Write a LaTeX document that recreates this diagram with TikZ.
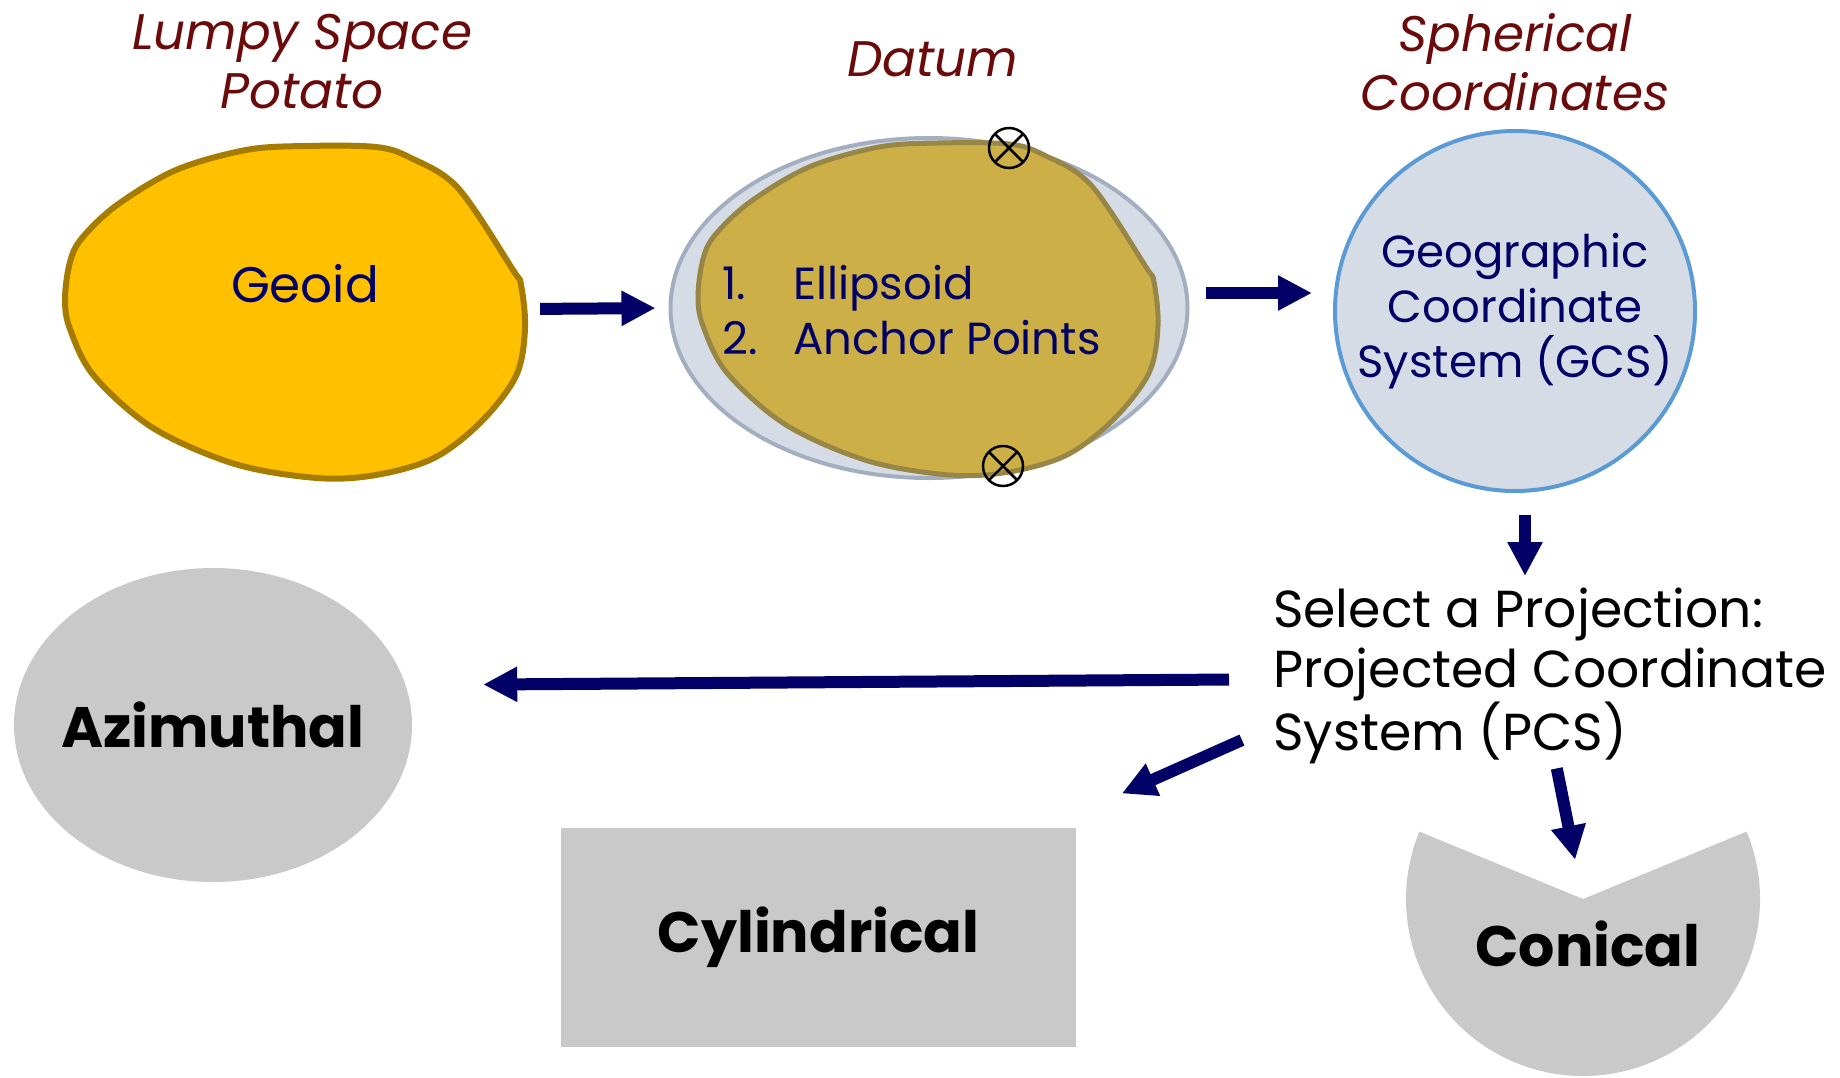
\documentclass[tikz,border=0pt]{standalone}
\usepackage{fontspec}
\setmainfont{Poppins}
\usepackage{xcolor}
\usetikzlibrary{arrows.meta,positioning,shapes.geometric}
\definecolor{gsnavy}{HTML}{000066}
\definecolor{gsmaroon}{HTML}{6B0A0A}
\definecolor{gsgold}{HTML}{FFC000}
\definecolor{gsgolddark}{HTML}{A67C00}
\definecolor{gsmuted}{HTML}{CDAF47}
\definecolor{gsmuteddark}{HTML}{978645}
\definecolor{gspale}{HTML}{D6DCE5}
\definecolor{gsedge}{HTML}{A3AEC0}
\definecolor{gsblue}{HTML}{5B9BD5}
\definecolor{gsgray}{HTML}{C9C9C9}
\tikzset{
  title/.style={font=\fontsize{50}{59}\selectfont\itshape, text=gsmaroon, align=center, inner sep=0pt},
  bodytext/.style={font=\fontsize{45}{55}\selectfont, text=gsnavy, align=center, inner sep=0pt},
  kind/.style={font=\fontsize{57}{70}\selectfont\bfseries, text=black, inner sep=0pt},
  holder/.style={draw=none, inner sep=0pt},
  anchorpt/.style={circle, draw=black, line width=2.5pt, minimum size=40pt, inner sep=0pt,
    path picture={\draw[line width=2.5pt] (path picture bounding box.north west) -- (path picture bounding box.south east)
      (path picture bounding box.north east) -- (path picture bounding box.south west);}},
  line/.style={-{Triangle[length=34pt, width=33pt]}, line width=12pt, draw=gsnavy}
}
% hand drawn outline of the potato
\newcommand{\potatopath}{plot[smooth cycle, tension=0.55] coordinates {(70,262) (82,238) (117,205) (176,170)
  (246,150) (305,146) (376,147) (411,158) (458,188) (513,270) (521,285) (525,329) (516,376) (481,422)
  (434,458) (376,475) (317,478) (235,464) (153,428) (94,376) (70,329) (65,299)}}

\begin{document}
\begin{tikzpicture}[x=1pt, y=-1pt]
  \useasboundingbox (0,0) rectangle (1840,1077);

  % top row
  \draw[fill=gsgold, draw=gsgolddark, line width=6pt] \potatopath;
  \node[holder, ellipse, minimum width=460pt, minimum height=331pt] (geoid) at (295,312) {};
  \node[bodytext, font=\fontsize{50}{55}\selectfont] (geoidtxt) at (305,284) {Geoid};

  \node[ellipse, draw=gsedge, fill=gspale, line width=4pt, minimum width=517pt, minimum height=340pt] (datum) at (929,308) {};
  \draw[fill=gsmuted, draw=gsmuteddark, line width=5pt, shift={(633,-3)}] \potatopath;
  \node[bodytext, align=left, anchor=west] (items) at (722,310)
    {\makebox[71pt][l]{1.}Ellipsoid\\\makebox[71pt][l]{2.}Anchor Points};
  \node[anchorpt] (pt1) at (1009,148) {};
  \node[anchorpt] (pt2) at (1003,466) {};

  \node[circle, draw=gsblue, fill=gspale, line width=4pt, minimum size=360pt, bodytext] (gcs) at (1515,311)
    {Geographic\\Coordinate\\System (GCS)};

  \node[title] (lsp) at (302,62) {Lumpy Space\\Potato};
  \node[title] (dtm) at (933,59) {Datum};
  \node[title] (sph) at (1515,62) {Spherical\\Coordinates};

  % projection and the three families
  \node[bodytext, font=\fontsize{52}{60}\selectfont, text=black, align=left, anchor=north west] (pcs) at (1273,588)
    {Select a Projection:\\Projected Coordinate\\System (PCS)};

  \node[ellipse, fill=gsgray, minimum width=398pt, minimum height=314pt, inner sep=0pt,
    label={[kind]center:Azimuthal}] (azim) at (213,725) {};
  \node[rectangle, fill=gsgray, minimum width=515pt, minimum height=219pt, kind] (cyl) at (818.5,937.5) {Cylindrical};
  \fill[gsgray] (1583,899) -- ++(-22.4:177) arc[start angle=-22.4, end angle=202.4, radius=177] -- cycle;
  \coordinate (conc) at (1583,899);
  \node[kind] (conical) at (1588,944) {Conical};

  \coordinate (gcsfoot) at ([xshift=10pt]gcs.south);

  \draw[line, shorten <=15pt, shorten >=13pt] ([yshift=3pt]geoid.east) -- (datum.west);
  \draw[line, shorten <=16pt, shorten >=21pt] ([yshift=15pt]datum.east) -- ([yshift=18pt]gcs.west);
  \draw[line, shorten <=22pt, shorten >=12pt] (gcsfoot) -- (gcsfoot |- pcs.north);
  \draw[line, shorten <=44pt, shorten >=71pt] ([yshift=-3pt]pcs.west) -- ([yshift=40pt]azim.east);
  \draw[line, shorten <=34pt, shorten >=50pt] ([yshift=-50pt]pcs.west) -- ([yshift=14pt]cyl.north east);
  \draw[line, shorten <=4pt, shorten >=40pt] ([xshift=283pt]pcs.south west) -- (conc);
\end{tikzpicture}
\end{document}
